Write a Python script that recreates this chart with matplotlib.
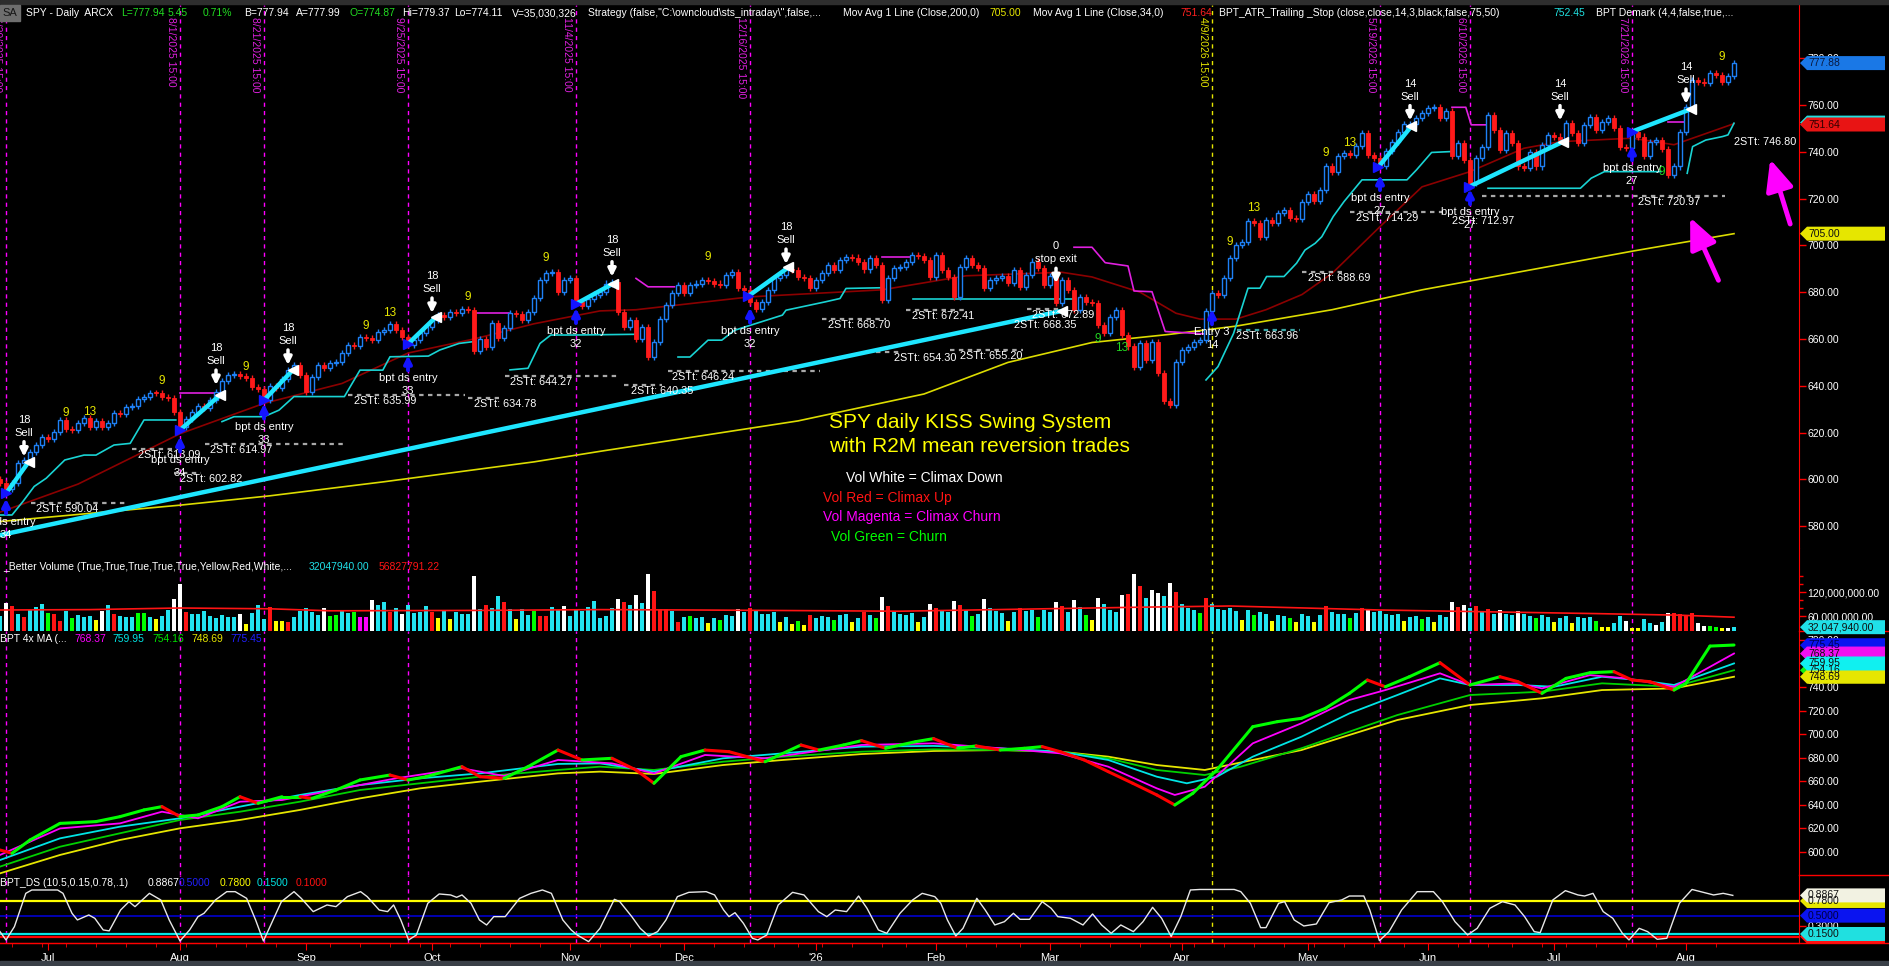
import numpy as np
import pandas as pd
import matplotlib
matplotlib.use('Agg')
import matplotlib.pyplot as plt
from matplotlib.patches import Polygon, Rectangle, FancyArrowPatch
from matplotlib.collections import LineCollection
from matplotlib.ticker import FuncFormatter

plt.rcParams['font.family'] = ['Liberation Sans', 'DejaVu Sans']

W, H = 1889, 966
AXR = 1799          # x of the red price-scale line (px)

# ---------------- data ----------------
holidays = ['2025-06-19', '2025-07-04', '2025-09-01', '2025-11-27', '2025-12-25',
            '2026-01-01', '2026-01-19', '2026-02-16', '2026-04-03', '2026-05-25',
            '2026-06-19', '2026-07-03']
dates = pd.bdate_range('2025-06-18', '2026-08-13', freq='C', holidays=holidays)

closes = [
    598.5, 596.0, 598.3, 606.9, 608.3, 611.6, 614.7, 618.0, 617.3, 620.4,
    625.4, 621.4, 621.1, 624.0, 626.1, 622.5, 625.1, 622.5, 624.2, 628.2,
    627.8, 630.8, 631.5, 634.2, 635.4, 637.1, 636.8, 635.4, 634.6, 629.0,
    622.5, 626.0, 629.0, 631.5, 630.5, 634.0, 637.5, 642.0, 644.6, 645.0,
    644.0, 643.5, 639.6, 638.5, 634.0, 640.0, 639.0, 643.0, 646.8, 648.9,
    644.6, 637.5, 643.9, 648.9, 647.5, 649.6, 650.3, 653.9, 657.4, 656.9,
    661.0, 660.5, 659.6, 663.1, 663.8, 666.4, 663.8, 661.0, 657.4, 659.6,
    662.4, 665.3, 668.1, 670.3, 669.5, 671.7, 671.2, 672.7, 672.2, 655.0,
    660.0, 656.7, 666.7, 660.3, 664.6, 671.0, 670.5, 668.1, 671.7, 677.4,
    685.2, 688.1, 688.8, 680.2, 685.2, 685.9, 676.0, 674.0, 677.0, 679.0,
    680.2, 683.7, 684.5, 671.6, 665.2, 668.0, 660.2, 665.0, 652.3, 658.7,
    668.7, 674.5, 679.5, 683.0, 679.5, 683.0, 683.7, 685.2, 684.9, 683.7,
    683.0, 687.3, 688.7, 681.6, 680.9, 676.0, 673.0, 676.0, 680.9, 685.9,
    687.3, 690.0, 689.5, 686.6, 686.0, 681.6, 685.2, 688.0, 691.6, 689.5,
    693.7, 695.2, 694.8, 693.0, 689.7, 694.4, 691.6, 676.6, 685.9, 690.2,
    690.9, 693.0, 695.9, 695.4, 693.7, 686.6, 695.9, 689.5, 686.6, 678.0,
    690.9, 694.4, 691.6, 690.5, 681.6, 685.0, 686.0, 687.0, 684.0, 689.5,
    682.4, 687.4, 693.1, 690.5, 683.1, 686.7, 675.3, 685.2, 681.0, 672.4,
    678.1, 676.0, 675.5, 666.0, 662.5, 669.5, 672.4, 661.7, 656.8, 648.2,
    658.2, 651.1, 658.9, 645.4, 633.5, 631.8, 650.3, 655.3, 656.5, 658.9,
    659.6, 672.0, 679.5, 679.0, 686.0, 694.5, 700.2, 701.6, 710.2, 709.5,
    703.7, 710.9, 709.5, 713.7, 715.1, 711.6, 711.2, 718.7, 722.0, 718.8,
    723.7, 734.0, 731.5, 738.0, 739.4, 738.6, 742.5, 747.9, 738.7, 737.2,
    733.8, 740.5, 744.0, 748.3, 751.7, 751.9, 754.3, 756.5, 758.6, 759.3,
    754.3, 757.2, 738.0, 743.6, 736.5, 726.6, 737.3, 742.2, 755.7, 749.3,
    740.8, 747.9, 743.6, 733.7, 733.2, 740.0, 733.7, 742.9, 747.2, 746.5,
    745.0, 752.2, 747.9, 743.6, 751.4, 755.0, 749.3, 752.9, 754.3, 750.0,
    742.2, 741.8, 748.6, 746.5, 738.0, 744.3, 745.0, 741.0, 730.0, 733.7,
    748.6, 759.3, 770.7, 770.0, 769.5, 773.5, 772.8, 770.0, 772.5, 777.94]
first_open = 600.2

vol_m = [
    60, 93, 85, 65, 57, 75, 83, 90, 68, 65, 48, 72, 56, 62, 57, 60, 50, 72, 87, 65,
    61, 58, 57, 68, 68, 57, 52, 60, 75, 102, 140, 71, 65, 65, 73, 60, 54, 62, 57, 58,
    65, 40, 68, 88, 52, 82, 48, 48, 46, 58, 73, 79, 71, 62, 79, 61, 62, 75, 68, 71,
    58, 58, 100, 88, 96, 69, 79, 65, 88, 68, 71, 85, 71, 54, 75, 52, 71, 65, 65, 160,
    78, 88, 79, 110, 96, 77, 52, 77, 62, 73, 60, 60, 82, 75, 85, 60, 75, 73, 82, 97,
    56, 60, 79, 103, 96, 88, 113, 93, 165, 123, 77, 77, 73, 46, 57, 60, 54, 58, 42, 55,
    50, 62, 60, 78, 70, 80, 72, 66, 64, 70, 45, 58, 40, 48, 38, 62, 55, 60, 58, 50,
    62, 66, 44, 56, 70, 62, 55, 108, 85, 72, 66, 62, 68, 45, 58, 90, 80, 72, 70, 98,
    88, 74, 60, 66, 102, 80, 72, 68, 48, 70, 80, 72, 74, 58, 76, 70, 95, 84, 70, 100,
    82, 62, 50, 104, 90, 76, 70, 112, 115, 165, 135, 105, 125, 118, 110, 142, 120, 90, 80, 74,
    68, 105, 90, 78, 74, 80, 72, 50, 76, 62, 70, 66, 48, 62, 60, 55, 45, 64, 60, 46,
    62, 85, 70, 66, 64, 56, 68, 80, 78, 70, 72, 66, 62, 64, 48, 58, 60, 52, 58, 44,
    62, 58, 95, 82, 88, 80, 85, 70, 78, 66, 76, 64, 62, 72, 64, 60, 56, 62, 58, 44,
    56, 60, 42, 58, 56, 58, 48, 33, 33, 42, 60, 48, 29, 30, 52, 42, 38, 46, 68, 67,
    65, 60, 68, 43, 36, 36, 33, 29, 29, 32]
vol_cols = ('CWRCRCCCGR' 'RCGCCCYWCR' 'CCCGGCYCCW' 'WRCCCCCCCC' 'WYCCCRYYRC'
            'CCCCWGGCCG' 'MMWCCRCWCC' 'CCRYCYCCCW' 'CRCCRCYCCG' 'RRCCWCCCCC'
            'CCCWRCWCWR' 'RRCRCGCCYC' 'GCCWCRCCCC' 'YCYGYRCCCG' 'CCYCRCGWRC'
            'CCCYCWRCCW' 'RCGCWCCCYC' 'RCCGCCWRCW' 'CGYWCCCWRW' 'RCWWCWRCCC'
            'GRCCCCCYCG' 'CCYCCGYCCY' 'CRCCCGCRWC' 'CCCCYCCGCY' 'CCWRWCRCRC'
            'WCCWCCGCCY' 'CCYCCCGYYC' 'CWYYCCWCWR' 'RRRWWGGYWC')
vol_avg = [(0, 75), (15, 76), (30, 80), (45, 78), (55, 73), (80, 74), (100, 76),
           (116, 75), (150, 72), (190, 82), (205, 85), (230, 75), (250, 70),
           (266, 66), (280, 62), (289, 57)]

sma200 = [(0, 582), (30, 589), (45, 593), (64, 599), (89, 607.5), (100, 612),
          (133, 625), (154, 636.5), (168, 650), (182, 658.5), (195, 662),
          (206, 665.5), (222, 672.5), (237, 681), (272, 697.5), (289, 705)]
sma34 = [(0, 586), (13, 598), (30, 619.5), (44, 632.5), (57, 641), (68, 654),
         (79, 660), (89, 666.5), (100, 672), (106, 672.5), (125, 678), (147, 681),
         (161, 687), (177, 688.5), (182, 686.5), (190, 680), (196, 671), (200, 668.5),
         (206, 668.5), (211, 672.5), (217, 679), (222, 688), (230, 708), (237, 725),
         (245, 731.5), (254, 741.5), (260, 744.3), (272, 745.8), (279, 743), (289, 752)]

# ATR trailing stop, 'L' = below price (long), 'S' = above price
atr_stop = [
    ('L', [(0, 584.8), (2, 584.8), (3.8, 590.5), (5.7, 597), (7.7, 600.5), (10.8, 608.3),
           (14, 610.4), (16, 610.4), (19, 614.7), (21.7, 615.4), (24, 625.4), (29.3, 625.4)]),
    ('S', [(30, 637.1), (36.7, 637.1)]),
    ('L', [(37, 624.7), (39, 626.8), (44, 626.8), (46.5, 629.6), (49, 635.4), (57.4, 635.4),
           (60, 646.7), (63.8, 646.7), (65, 652.4), (71.4, 652.7), (73.3, 655.3),
           (76.5, 658.1), (79, 658.9)]),
    ('S', [(79, 671), (84.8, 671)]),
    ('L', [(85, 646.8), (88, 647.5), (90, 658.1), (91.8, 661.7), (95.7, 661.7), (105.8, 662)]),
    ('S', [(106, 685.9), (108, 682.3), (112.4, 682.3)]),
    ('L', [(113, 652.3), (115, 652.3), (118, 659.5), (120.3, 659.5), (122.4, 663.7),
           (130.4, 670.2), (131, 672.3), (137.6, 675.9), (140, 677.3), (141, 681.6), (147, 681.9)]),
    ('S', [(147, 694.9), (152, 694.9)]),
    ('L', [(152.1, 677.3), (179, 677.3)]),
    ('S', [(179, 699.2), (182, 699.2), (184.2, 692.6), (188, 691.2), (189, 680.5),
           (192, 680.2), (194.2, 663.2), (200.6, 662.2)]),
    ('L', [(201, 642.5), (203, 648.2), (205.6, 662.4), (208, 681.7), (210, 681.7),
           (211.1, 686.7), (214, 686.7), (216.1, 692.4), (217.5, 698), (219.2, 700.9),
           (220.3, 703.7), (222.2, 712.3), (224, 718.7), (227, 728), (234.5, 728),
           (236.1, 732.3), (238.6, 739.7), (242, 740.1)]),
    ('S', [(242, 759), (244.3, 759), (245.2, 751.5), (248, 751.5)]),
    ('L', [(248, 724.4), (263.4, 724.4), (265.2, 728.7), (267.4, 731.5), (276.8, 731.5)]),
    ('S', [(278, 752.5), (281, 752.5)]),
    ('L', [(281.2, 730.8), (282.1, 742.2), (284.3, 745), (287.1, 746.5), (288, 747.2), (289, 752.2)]),
]

long_trend = [(0, 576.2), (177, 672.0)]
trades = [[(1, 594), (4.8, 607.6)], [(30, 621.1), (36.7, 636.1)], [(44, 633.9), (48.8, 646.7)],
          [(68, 657.9), (72.7, 669.5)], [(96, 675), (102.2, 683.7)], [(124.7, 678.3), (131.4, 690.6)],
          [(229.7, 733.4), (235.2, 750.8)], [(244.9, 725.1), (260.5, 744.3)],
          [(272, 748.6), (281.8, 758.2)]]

sells = [(4, 609.7, '18', 'Sell'), (36, 640.3, '18', 'Sell'), (48, 648.9, '18', 'Sell'),
         (72, 671.1, '18', 'Sell'), (102, 686.6, '18', 'Sell'), (131, 692.0, '18', 'Sell'),
         (176, 683.8, '0', 'stop exit'), (235, 753.3, '14', 'Sell'),
         (260, 753.3, '14', 'Sell'), (281, 760.4, '14', 'Sell')]
entries = [(1, 591.8, 'bpt ds entry', '34'), (30, 618.3, 'bpt ds entry', '34'),
           (44, 632.4, 'bpt ds entry', '33'), (68, 653.0, 'bpt ds entry', '33'),
           (96, 673.2, 'bpt ds entry', '32'), (125, 673.4, 'bpt ds entry', '32'),
           (202, 672.7, 'Entry 3', '14'), (230, 730.0, 'bpt ds entry', '27'),
           (245, 724.0, 'bpt ds entry', '27'), (272, 742.8, 'bpt ds entry', '27')]
counts = [(11, 628.5, '9', 'Y'), (15, 628.8, '13', 'Y'), (27, 642.1, '9', 'Y'),
          (41, 648.2, '9', 'Y'), (61, 665.6, '9', 'Y'), (65, 671.0, '13', 'Y'),
          (78, 678.1, '9', 'Y'), (91, 694.6, '9', 'Y'), (118, 694.9, '9', 'Y'),
          (183, 660.0, '9', 'G'), (187, 656.0, '13', 'G'), (205, 701.6, '9', 'Y'),
          (209, 715.9, '13', 'Y'), (221, 739.6, '9', 'Y'), (225, 743.6, '13', 'Y'),
          (277, 731.2, '9', 'G'), (287, 780.6, '9', 'Y')]
# (level, line start bar, line end bar, label bar)
stt = [(590.04, 5.1, 21.4, 6), (613.09, 22, 29.7, 23), (614.97, 34.1, 57.4, 35),
       (602.82, 29, 33.5, 30), (635.99, 58, 77.5, 59), (634.78, 78, 83.2, 79),
       (644.27, 84.2, 103.4, 85), (640.35, 104, 110.3, 105.2), (646.24, 111.4, 136.6, 112),
       (668.70, 137, 147.6, 138), (654.30, 146, 150.4, 149), (655.20, 158.4, 170.5, 160),
       (672.41, 151, 160.8, 152), (672.89, 171.2, 177.4, 172), (668.35, None, None, 169),
       (663.96, 206.1, 216.7, 206), (688.69, 217, 224, 218), (714.29, 225, 240.5, 226),
       (712.97, None, None, 242), (720.97, 247, 287.5, 273), (746.80, None, None, 289)]
marked_days = [1, 30, 44, 68, 96, 125, 202, 230, 245, 272]

ma_fast = [(0, 601.7), (2, 598.9), (5, 610.2), (10, 624.3), (13, 625), (16, 625.8), (20, 630),
           (24, 635.7), (27, 638.5), (30, 630), (33, 631.4), (37, 638.5), (40, 646.9), (43, 641.3),
           (47, 646.9), (50, 646.9), (52, 645.5), (56, 652.6), (60, 661.1), (65, 665.3), (68, 661.1),
           (71, 663.9), (77, 672.4), (80, 663.9), (84, 662.5), (88, 672.4), (93, 686.5), (97, 678.1),
           (102, 679.5), (106, 669.6), (109, 658.3), (113.5, 680.9), (117.5, 686.5), (121.5, 685.1),
           (124.5, 680.9), (127.5, 676.6), (133.5, 690.8), (136.5, 686.5), (140.6, 690.8),
           (143.6, 694.5), (147.6, 688), (152.6, 693.6), (155.6, 696.2), (159.6, 688), (162.7, 690),
           (166.7, 686.5), (170.7, 688), (173.7, 689.4), (176.7, 685.1), (180.7, 678.1),
           (184.7, 668.2), (188.8, 658.3), (192.8, 648.4), (195.8, 639.9), (198.8, 649.8),
           (202.8, 669.6), (208.8, 706.3), (212.9, 710.6), (216.9, 713.4), (220.9, 721.9),
           (224.9, 734.6), (227.9, 745.9), (230.9, 740.2), (234.9, 748.7), (240, 760.6),
           (245, 741.7), (250, 748.7), (253, 744.5), (257, 734.6), (261, 747.3), (265, 752.1),
           (269, 753), (272, 745.9), (275, 744.5), (279, 737.4), (281, 743.1), (285, 774.7),
           (289, 775.6)]
ma_magenta = [(0, 597.5), (10, 620), (20, 624.3), (27, 634.2), (33, 628.6), (40, 642.7), (47, 644.1),
              (60, 656.8), (66, 662.5), (77, 671), (84, 664.5), (93, 678.1), (102, 675.2),
              (109, 666.7), (117.5, 682.3), (127.5, 679.5), (143.6, 690.8), (155.6, 692.2),
              (166.7, 688), (176.7, 683.7), (184.7, 672.4), (192.8, 654), (195.8, 648.4),
              (200.8, 655.4), (208.8, 692.2), (216.9, 709.2), (224.9, 729), (230.9, 737.4),
              (240, 751.6), (245, 741.7), (253, 743.1), (257, 738.8), (265, 750.1), (271, 747.3),
              (279, 740.2), (289, 768.4)]
ma_cyan = [(0, 593.2), (10, 611.6), (20, 621.5), (30, 628.6), (40, 638.5), (50, 648.4), (60, 656.8),
           (70, 662.5), (80, 666.7), (93, 674.7), (100, 675.2), (109, 668.2), (120.5, 679.5),
           (130.5, 683.7), (143.6, 689.4), (155.6, 690), (166.7, 688), (176.7, 685.1),
           (184.7, 678.1), (192.8, 663.9), (197.8, 658.3), (202.8, 663.9), (208.8, 680.9),
           (216.9, 697.8), (224.9, 717.6), (232.9, 733.2), (240, 747.3), (245, 741.7),
           (253, 741.7), (259, 740.2), (267, 748.7), (273, 745.9), (279, 741.7), (289, 760)]
ma_green = [(0, 587.6), (10, 604.5), (20, 615.9), (30, 627.2), (40, 634.2), (50, 642.7), (60, 652.6),
            (70, 658.3), (80, 663.9), (93, 669.6), (100, 672.4), (109, 669.6), (120.5, 676.6),
            (130.5, 680.9), (143.6, 685.1), (155.6, 687.1), (166.7, 686.5), (176.7, 685.1),
            (184.7, 679.5), (192.8, 669.6), (200.8, 665.3), (206.8, 672.4), (216.9, 688),
            (224.9, 702.1), (232.9, 716.2), (245, 733.2), (257, 736), (267, 743.1),
            (279, 740.2), (289, 754.2)]
ma_yellow = [(0, 581.9), (10, 597.5), (20, 610.2), (30, 620.1), (40, 627.2), (50, 635.7),
             (60, 645.5), (70, 654), (80, 659.7), (93, 666.7), (100, 668.2), (109, 666.2),
             (120.5, 673.8), (130.5, 678.1), (143.6, 683.1), (155.6, 685.7), (166.7, 686.5),
             (176.7, 685.1), (184.7, 680.9), (192.8, 673.8), (200.8, 669.6), (208.8, 678.1),
             (216.9, 686.5), (224.9, 699.3), (232.9, 712), (245, 724.7), (257, 730.4),
             (267, 737.4), (279, 738.8), (289, 748.7)]

ds_osc = [(0, 0.195), (1, 0.036), (2.4, 0.29), (4.3, 0.926), (5.3, 0.99), (9.6, 0.99), (10.5, 0.926),
          (12, 0.545), (12.9, 0.418), (14.8, 0.513), (15.8, 0.45), (17.2, 0.227), (18.2, 0.21),
          (20.1, 0.608), (21.5, 0.767), (22.5, 0.672), (24.9, 0.926), (26.8, 0.799), (28.2, 0.418),
          (30, 0.017), (31.6, 0.227), (33, 0.481), (34, 0.545), (35.9, 0.799), (37.8, 0.958),
          (39.2, 0.958), (41.1, 0.831), (42.6, 0.418), (43.9, 0.017), (45, 0.29), (46.9, 0.767),
          (49, 0.958), (50.2, 0.831), (52.2, 0.577), (54.5, 0.704), (56, 0.672), (57.9, 0.863),
          (60.1, 0.958), (61.2, 0.863), (63.2, 0.608), (64.6, 0.577), (65.6, 0.704), (66.8, 0.418),
          (68.1, 0.036), (69.4, 0.131), (71.3, 0.736), (73.2, 0.914), (75.1, 0.895), (76.1, 0.85),
          (77, 0.895), (78.5, 0.736), (79.9, 0.418), (81.1, 0.322), (82.3, 0.481), (84.2, 0.481),
          (86.6, 0.831), (88.5, 0.926), (90.4, 0.99), (91.9, 0.926), (93.8, 0.418), (95.2, 0.227),
          (96.2, 0.131), (98.1, 0.004), (100, 0.258), (102.4, 0.812), (103.3, 0.767),
          (105.3, 0.481), (106.7, 0.258), (108.1, 0.112), (109.6, 0.195), (111, 0.418),
          (112.9, 0.863), (114.8, 0.945), (117.7, 0.958), (119.1, 0.895), (120.6, 0.608),
          (121.5, 0.481), (122.5, 0.557), (123.9, 0.354), (125.4, 0.068), (126.3, 0.036),
          (127.8, 0.131), (129.7, 0.704), (132.1, 0.945), (134, 0.895), (136.4, 0.577),
          (137.8, 0.481), (139.2, 0.608), (141.1, 0.577), (143.1, 0.875), (144.5, 0.64),
          (146.4, 0.227), (147.8, 0.163), (150, 0.545), (152.1, 0.799), (153.7, 0.926),
          (154.7, 0.895), (155.8, 0.863), (156.8, 0.736), (157.9, 0.418), (159.3, 0.112),
          (160.5, 0.258), (162.8, 0.831), (164.2, 0.608), (165.8, 0.322), (167.4, 0.385),
          (168.9, 0.545), (170, 0.43), (171.6, 0.43), (173.7, 0.767), (175.2, 0.64),
          (176.3, 0.481), (178.4, 0.45), (180.5, 0.322), (182.1, 0.532), (183.6, 0.322),
          (185.2, 0.163), (186.8, 0.322), (188.9, 0.195), (190.5, 0.385), (192.1, 0.659),
          (193.6, 0.45), (195.2, 0.1), (196.8, 0.481), (198.4, 0.99), (200, 1.0), (205.7, 1.0),
          (206.8, 0.958), (208.4, 0.736), (210.1, 0.271), (211, 0.271), (213.1, 0.736),
          (214.1, 0.767), (215.7, 0.418), (217.3, 0.303), (219.4, 0.341), (221.5, 0.748),
          (223.6, 0.799), (224.9, 0.875), (227.3, 0.875), (228.3, 0.608), (229.9, 0.023),
          (231.5, 0.195), (233.6, 0.608), (236.2, 0.958), (238.9, 0.958), (240.4, 0.767),
          (242.5, 0.385), (244.6, 0.131), (246.2, 0.258), (248.3, 0.64), (250.4, 0.767),
          (252.5, 0.704), (254.1, 0.481), (255.7, 0.195), (256.7, 0.176), (258.8, 0.799),
          (260.9, 0.977), (263, 0.895), (264.1, 0.875), (265.5, 0.926), (267.2, 0.577),
          (268.8, 0.45), (270.4, 0.163), (271.5, 0.036), (273.2, 0.258), (274.6, 0.195),
          (276.2, 0.049), (277.8, 0.068), (279.9, 0.736), (282, 1.0), (284.1, 0.939),
          (285.6, 0.895), (287.2, 0.926), (288.8, 0.887)]
ds_levels = [(0.78, 'Y'), (0.5, 'B'), (0.15, 'C'), (0.10, 'R')]

# ---------------- colours ----------------
UP, DN = '#1e80f5', '#ff1a1a'
VC = {'C': '#22e4f0', 'R': '#ff1414', 'W': '#ffffff', 'Y': '#ffff00', 'G': '#00ff00', 'M': '#ff00ff'}
CYAN, MAG, YEL, GRN = '#1ee6ff', '#e020e0', '#e6e600', '#22d822'

fig = plt.figure(figsize=(W / 100, H / 100), dpi=100, facecolor='black')


def add_ax(top, bottom):
    ax = fig.add_axes([0, 1 - bottom / H, AXR / W, (bottom - top) / H])
    ax.set_facecolor('black')
    for s in ('top', 'left', 'bottom'):
        ax.spines[s].set_visible(False)
    ax.spines['right'].set_color('#ff0000')
    ax.set_xlim(0, AXR / 6)
    ax.yaxis.tick_right()
    ax.tick_params(axis='y', which='both', colors='#ff0000', labelcolor='white',
                   length=5, width=1, labelsize=7.5, pad=1)
    ax.tick_params(axis='x', which='both', bottom=False, labelbottom=False)
    return ax


def ftext(x, y, s, color, size=7.5, **kw):
    kw.setdefault('ha', 'left')
    kw.setdefault('va', 'center')
    fig.text(x / W, 1 - y / H, s, color=color, fontsize=size, **kw)


def xy(pts):
    a = np.array(pts, dtype=float)
    return a[:, 0], a[:, 1]


ax_p = add_ax(5, 548)
ax_v = add_ax(548, 631)
ax_m = add_ax(631, 875)
ax_d = add_ax(875, 943)
ax_p.set_ylim(570.7, 802.7)
ax_v.set_ylim(22.5e6, 230e6)
ax_m.set_ylim(580.5, 787.5)
ax_d.set_ylim(-0.022, 1.276)

fmt2 = FuncFormatter(lambda v, p: f'{v:.2f}')
ax_p.set_yticks(np.arange(580, 781, 20))
ax_p.yaxis.set_major_formatter(fmt2)
ax_v.set_yticks([60e6, 120e6])
ax_v.set_yticks([80e6, 100e6, 140e6, 160e6], minor=True)
ax_v.yaxis.set_major_formatter(FuncFormatter(lambda v, p: f'{v:,.2f}'))
ax_v.tick_params(axis='y', which='minor', length=3)
ax_m.set_yticks(np.arange(600, 781, 20))
ax_m.yaxis.set_major_formatter(fmt2)
ax_d.set_yticks([0.3])
ax_d.yaxis.set_major_formatter(FuncFormatter(lambda v, p: f'{v:.4f}'))

# x axis (months / weeks)
ax_d.spines['bottom'].set_visible(True)
ax_d.spines['bottom'].set_color('#ff0000')
month_idx = [i for i in range(len(dates)) if i == 0 or dates[i].month != dates[i - 1].month][1:]
month_lab = ["'26" if dates[i].month == 1 else dates[i].strftime('%b') for i in month_idx]
week_idx = [i for i in range(1, len(dates)) if dates[i].weekday() < dates[i - 1].weekday()]
ax_d.set_xticks(month_idx, month_lab)
ax_d.set_xticks(week_idx, minor=True)
ax_d.tick_params(axis='x', which='both', bottom=True, labelbottom=True, colors='#ff0000',
                 labelcolor='white', labelsize=8, pad=2)
ax_d.tick_params(axis='x', which='major', length=5)
ax_d.tick_params(axis='x', which='minor', length=3)

# dashed date markers through all panels
for b in marked_days:
    col = YEL if b == 202 else '#ff00ff'
    for ax in (ax_p, ax_v, ax_m, ax_d):
        ax.axvline(b, color=col, lw=1, ls=(0, (3, 3)), zorder=0.5)
    d = dates[b]
    ftext(6 * b - 9, 17, f'{d.month}/{d.day}/{d.year} 15:00', YEL if b == 202 else MAG,
          size=7.5, rotation=-90, ha='center', va='top')

# ---------------- price panel ----------------
n = len(closes)
c = np.array(closes)
o = np.concatenate([[first_open], c[:-1]])
x = np.arange(n)
up = c >= o
lo_b, hi_b = np.minimum(o, c), np.maximum(o, c)
WICK = 1.3
ax_p.vlines(x, lo_b - WICK, hi_b + WICK, colors=np.where(up, UP, DN), lw=1, zorder=3)
bh = np.maximum(hi_b - lo_b, 0.35)
ax_p.bar(x[up], bh[up], bottom=lo_b[up], width=0.7, facecolor='black', edgecolor=UP, lw=1, zorder=4)
ax_p.bar(x[~up], bh[~up], bottom=lo_b[~up], width=0.7, facecolor=DN, edgecolor=DN, lw=0.6, zorder=4)

ax_p.plot(*xy(sma200), color='#dcdc00', lw=1.2, zorder=2)
ax_p.plot(*xy(sma34), color='#8b0000', lw=1.2, zorder=2)
for side, pts in atr_stop:
    ax_p.plot(*xy(pts), color='#19d3d3' if side == 'L' else MAG, lw=1.2, zorder=2)

for lvl, b0, b1, lb in stt:
    if b0 is not None:
        ax_p.plot([b0, b1], [lvl, lvl], color='#3aa6a6' if lvl == 663.96 else '#a8a8a8',
                  lw=1.6, ls=(0, (2, 2)), zorder=2)
    ax_p.annotate(f'2STt: {lvl:.2f}', (lb, lvl), xytext=(0, -6), textcoords='offset pixels',
                  color='white', fontsize=7.8, ha='left', va='center', zorder=6)

ax_p.plot(*xy(long_trend), color=CYAN, lw=3.2, solid_capstyle='round', zorder=5)
ax_p.plot(long_trend[1][0], long_trend[1][1], marker='<', color='white', ms=7, zorder=6)
for seg in trades:
    ax_p.plot(*xy(seg), color=CYAN, lw=3.2, solid_capstyle='round', zorder=5)
    ax_p.plot(seg[0][0], seg[0][1], marker='>', color='#1414ff', ms=7, zorder=6)
    ax_p.plot(seg[1][0], seg[1][1], marker='<', color='white', ms=7, zorder=6)

for b, tip, num, word in sells:
    ax_p.annotate('', (b, tip), xytext=(0, 15), textcoords='offset pixels',
                  arrowprops=dict(arrowstyle='-|>', color='white', lw=2.5, mutation_scale=11,
                                  shrinkA=0, shrinkB=0), zorder=7)
    ax_p.annotate(word, (b, tip), xytext=(0, 24), textcoords='offset pixels', color='white',
                  fontsize=8, ha='center', va='center', zorder=7)
    ax_p.annotate(num, (b, tip), xytext=(0, 37), textcoords='offset pixels', color='white',
                  fontsize=8, ha='center', va='center', zorder=7)
for b, tip, word, num in entries:
    ax_p.annotate('', (b, tip), xytext=(0, -15), textcoords='offset pixels',
                  arrowprops=dict(arrowstyle='-|>', color='#1414ff', lw=2.8, mutation_scale=11,
                                  shrinkA=0, shrinkB=0), zorder=7)
    ax_p.annotate(word, (b, tip), xytext=(0, -23), textcoords='offset pixels', color='white',
                  fontsize=8, ha='center', va='center', zorder=7)
    ax_p.annotate(num, (b, tip), xytext=(0, -36), textcoords='offset pixels', color='white',
                  fontsize=8, ha='center', va='center', zorder=7)
for b, p, t, k in counts:
    ax_p.text(b, p, t, color=YEL if k == 'Y' else GRN, fontsize=8.5, ha='center', va='center', zorder=7)

for tail, head in [((286.6, 684.0), (281.5, 713.0)), ((298.5, 708.0), (294.9, 737.9))]:
    ax_p.add_patch(FancyArrowPatch(tail, head, arrowstyle='-|>,head_length=0.85,head_width=0.38',
                                   mutation_scale=22, lw=3.5, color='#ff00ff', zorder=8))

ftext(829, 422, 'SPY daily KISS Swing System', '#ffff00', size=15)
ftext(829, 446, 'with R2M mean reversion trades', '#ffff00', size=15)
ftext(846, 478, 'Vol White = Climax Down', 'white', size=10)
ftext(823, 498, 'Vol Red = Climax Up', '#ff1414', size=10)
ftext(823, 517, 'Vol Magenta = Climax Churn', '#ff00ff', size=10)
ftext(831, 537, 'Vol Green = Churn', '#00ff00', size=10)

# ---------------- volume ----------------
ax_v.bar(x, np.array(vol_m) * 1e6, width=0.55, color=[VC[k] for k in vol_cols], zorder=2)
vx, vy = xy(vol_avg)
ax_v.plot(vx, vy * 1e6, color='#ff1414', lw=1.2, zorder=3)

# ---------------- 4x MA ----------------
fx_, fy_ = xy(ma_fast)
segs = [[(fx_[i], fy_[i]), (fx_[i + 1], fy_[i + 1])] for i in range(len(fx_) - 1)]
segc = ['#00ff00' if fy_[i + 1] >= fy_[i] else '#ff0000' for i in range(len(fx_) - 1)]
for pts, col in [(ma_yellow, '#e6e600'), (ma_green, '#00d000'), (ma_cyan, '#00e5e5'),
                 (ma_magenta, '#ff00ff')]:
    ax_m.plot(*xy(pts), color=col, lw=1.3, zorder=2)
ax_m.add_collection(LineCollection(segs, colors=segc, linewidths=2.2, zorder=3, capstyle='round'))

# ---------------- DS oscillator ----------------
LC = {'Y': '#ffff00', 'B': '#0000e0', 'C': '#00e5e5', 'R': '#ff0000'}
for lvl, k in ds_levels:
    ax_d.axhline(lvl, color=LC[k], lw=1.6 if k != 'B' else 1.1, zorder=1)
ax_d.plot(*xy(ds_osc), color='#e8e8e8', lw=1.0, zorder=3)

# ---------------- right-side value flags ----------------
def flag(ax, v, text, face, tcolor='#101010'):
    y = H - ax.transData.transform((0, v))[1]
    pts = [(AXR + 1, y), (AXR + 8, y - 7), (1885, y - 7), (1885, y + 7), (AXR + 8, y + 7)]
    fig.add_artist(Polygon([(a / W, 1 - b / H) for a, b in pts], closed=True,
                           transform=fig.transFigure, facecolor=face, edgecolor='none', zorder=10))
    fig.text((AXR + 9) / W, 1 - y / H, text, color=tcolor, fontsize=7.5, va='center',
             ha='left', zorder=11)


flag(ax_p, 777.88, '777.88', '#1a78e6', '#0a1a40')
flag(ax_p, 752.45, '', '#20e0e0')
flag(ax_p, 751.64, '751.64', '#e81414', '#300000')
flag(ax_p, 705.00, '705.00', '#e6e600')
flag(ax_v, 32047940, '32,047,940.00', '#20e0e8')
flag(ax_m, 775.45, '775.45', '#0a14f0', '#000050')
flag(ax_m, 754.16, '754.16', '#10f010')
flag(ax_m, 748.69, '748.69', '#e6e600')
flag(ax_m, 768.37, '768.37', '#f010f0')
flag(ax_m, 759.95, '759.95', '#10f0f0')
flag(ax_d, 0.78, '0.7800', '#e6e600')
flag(ax_d, 0.8867, '0.8867', '#f2f2e2')
flag(ax_d, 0.5, '0.5000', '#0a14f0', '#000040')
flag(ax_d, 0.10, '', '#ff1010')
flag(ax_d, 0.15, '0.1500', '#20e0e0')

# ---------------- frame, headers, panel labels ----------------
for yy in (631, 875):
    fig.add_artist(plt.Line2D([AXR / W, 1], [1 - yy / H] * 2, color='#ff0000', lw=1,
                              transform=fig.transFigure))
fig.add_artist(plt.Line2D([0, 1], [1 - 943 / H] * 2, color='#ff0000', lw=1, transform=fig.transFigure))
fig.add_artist(Rectangle((0, 1 - 4 / H), 1, 4 / H, transform=fig.transFigure, color='#2e2e2e', zorder=12))
fig.add_artist(Rectangle((0, 0), 1, 5 / H, transform=fig.transFigure, color='#3a4048', zorder=12))
fig.add_artist(Rectangle((0, 1 - 21 / H), 20 / W, 16 / H, transform=fig.transFigure,
                         color='#6e6e6e', zorder=12))
ftext(2, 13, 'SA', '#151515', size=8, zorder=13)

header = [(26, 'SPY - Daily  ARCX', 'white'), (121, 'L=777.94', '#22dd22'), (168, '5.45', '#22dd22'),
          (203, '0.71%', '#22dd22'), (244, 'B=777.94', 'white'), (296, 'A=777.99', 'white'),
          (349, 'O=774.87', '#22dd22'), (402, 'Hi=779.37', 'white'), (454, 'Lo=774.11', 'white'),
          (512, 'V=35,030,326', 'white'),
          (588, 'Strategy (false,"C:\\owncloud\\sts_intraday\\",false,...', 'white'),
          (843, 'Mov Avg 1 Line (Close,200,0)', 'white'), (989, '705.00', YEL),
          (1033, 'Mov Avg 1 Line (Close,34,0)', 'white'), (1180, '751.64', '#ff2020'),
          (1219, 'BPT_ATR_Trailing _Stop (close,close,14,3,black,false,75,50)', 'white'),
          (1553, '752.45', '#20e0e0'), (1596, 'BPT Demark (4,4,false,true,...', 'white')]
for hx, s, col in header:
    ftext(hx, 13, s, col, size=7.5)

ftext(3, 567, '_Better Volume (True,True,True,True,True,Yellow,Red,White,...', 'white')
ftext(309, 567, '32047940.00', '#20e0e8')
ftext(379, 567, '56827791.22', '#ff1414')
ftext(0, 639, 'BPT 4x MA (...', 'white')
for lx, s, col in [(74, '768.37', '#ff00ff'), (112, '759.95', '#00e5e5'), (152, '754.16', '#00e000'),
                   (191, '748.69', '#e6e600'), (230, '775.45', '#2020ff')]:
    ftext(lx, 639, s, col)
ftext(0, 883, 'BPT_DS (10.5,0.15,0.78,.1)', 'white')
for lx, s, col in [(148, '0.8867', 'white'), (179, '0.5000', '#2020ff'), (220, '0.7800', '#ffff00'),
                   (257, '0.1500', '#00e5e5'), (296, '0.1000', '#ff1010')]:
    ftext(lx, 883, s, col)

fig.savefig('out.png', dpi=100, facecolor='black')
